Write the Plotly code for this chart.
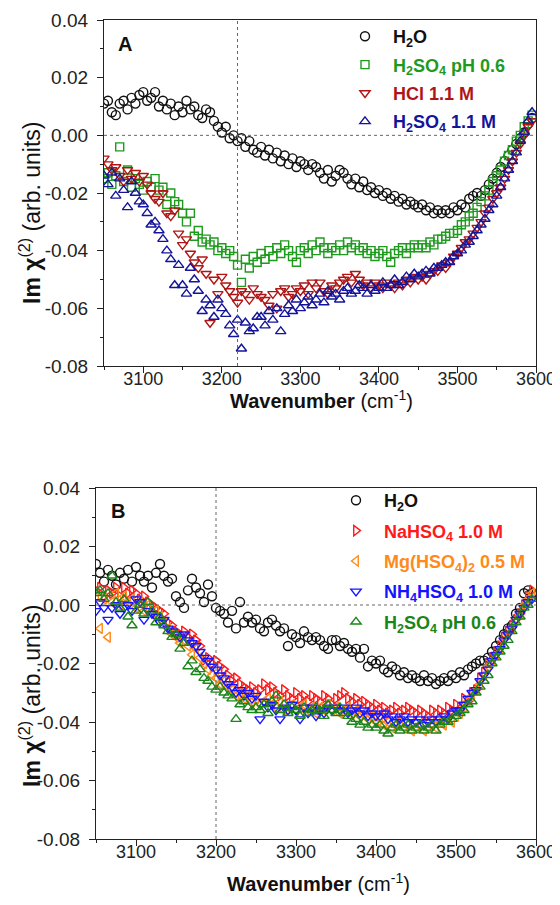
import plotly.graph_objects as go

WAVENUMBER = list(range(3050, 3600, 5))

# ---- Panel A ----
A_H2O = [0.011, 0.012, 0.008, 0.007, 0.011, 0.012, 0.009, 0.013, 0.011, 0.014,
         0.015, 0.012, 0.013, 0.015, 0.010, 0.012, 0.009, 0.011, 0.007, 0.010,
         0.008, 0.012, 0.009, 0.010, 0.007, 0.006, 0.009, 0.008, 0.005, 0.003,
         0.001, 0.003, -0.001, 0.000, -0.002, -0.001, -0.004, -0.002, -0.005, -0.006,
         -0.004, -0.007, -0.005, -0.008, -0.006, -0.009, -0.007, -0.010, -0.008, -0.011,
         -0.009, -0.010, -0.012, -0.010, -0.011, -0.013, -0.015, -0.012, -0.016, -0.014,
         -0.012, -0.013, -0.015, -0.017, -0.015, -0.018, -0.016, -0.019, -0.018, -0.020,
         -0.019, -0.021, -0.020, -0.022, -0.021, -0.023, -0.022, -0.024, -0.023, -0.024,
         -0.025, -0.024, -0.026, -0.025, -0.027, -0.026, -0.027, -0.026, -0.027, -0.025,
         -0.026, -0.024, -0.025, -0.022, -0.021, -0.020, -0.021, -0.019, -0.017, -0.015,
         -0.013, -0.011, -0.009, -0.007, -0.005, -0.003, -0.001, 0.001, 0.004, 0.006]

A_H2SO4_PH06 = [-0.015, -0.013, -0.017, -0.014, -0.004, -0.016, -0.012, -0.018, -0.015, -0.017,
                -0.019, -0.016, -0.018, -0.015, -0.019, -0.018, -0.024, -0.020, -0.023, -0.024,
                -0.027, -0.030, -0.027, -0.035, -0.033, -0.037, -0.036, -0.038, -0.037, -0.040,
                -0.039, -0.041, -0.040, -0.042, -0.045, -0.051, -0.043, -0.046, -0.042, -0.044,
                -0.041, -0.043, -0.040, -0.042, -0.039, -0.041, -0.038, -0.040, -0.042, -0.044,
                -0.040, -0.039, -0.041, -0.038, -0.040, -0.037, -0.039, -0.041, -0.039, -0.040,
                -0.038, -0.040, -0.037, -0.039, -0.038, -0.040, -0.039, -0.041, -0.040, -0.042,
                -0.041, -0.040, -0.042, -0.044, -0.041, -0.040, -0.039, -0.041, -0.039, -0.038,
                -0.039, -0.038, -0.039, -0.037, -0.038, -0.036, -0.036, -0.035, -0.034, -0.034,
                -0.033, -0.031, -0.030, -0.028, -0.027, -0.025, -0.023, -0.021, -0.019, -0.016,
                -0.014, -0.012, -0.009, -0.007, -0.005, -0.002, 0.000, 0.003, 0.005, 0.007]

A_HCL = [-0.008, -0.010, -0.012, -0.011, -0.014, -0.016, -0.012, -0.015, -0.013, -0.016,
         -0.014, -0.017, -0.020, -0.022, -0.023, -0.020, -0.027, -0.028, -0.026, -0.034,
         -0.038, -0.036, -0.041, -0.044, -0.046, -0.043, -0.048, -0.065, -0.050, -0.055,
         -0.049, -0.052, -0.054, -0.056, -0.058, -0.054, -0.055, -0.057, -0.053, -0.055,
         -0.056, -0.057, -0.059, -0.055, -0.060, -0.054, -0.053, -0.056, -0.055, -0.053,
         -0.054, -0.052, -0.055, -0.051, -0.053, -0.051, -0.054, -0.055, -0.052, -0.053,
         -0.051, -0.050, -0.049, -0.051, -0.048, -0.050, -0.052, -0.051, -0.053, -0.051,
         -0.052, -0.053, -0.051, -0.052, -0.053, -0.051, -0.052, -0.050, -0.051, -0.049,
         -0.050, -0.049, -0.050, -0.048, -0.047, -0.047, -0.045, -0.046, -0.044, -0.042,
         -0.041, -0.039, -0.037, -0.036, -0.034, -0.032, -0.030, -0.027, -0.025, -0.022,
         -0.020, -0.018, -0.015, -0.012, -0.009, -0.006, -0.003, 0.000, 0.003, 0.005]

A_H2SO4_11M = [-0.014, -0.017, -0.013, -0.021, -0.015, -0.019, -0.025, -0.016, -0.020, -0.023,
               -0.024, -0.027, -0.031, -0.030, -0.033, -0.036, -0.040, -0.043, -0.052, -0.045,
               -0.052, -0.055, -0.046, -0.050, -0.054, -0.061, -0.057, -0.059, -0.063, -0.057,
               -0.060, -0.062, -0.066, -0.069, -0.064, -0.074, -0.065, -0.068, -0.067, -0.063,
               -0.063, -0.066, -0.061, -0.064, -0.060, -0.068, -0.062, -0.059, -0.061, -0.057,
               -0.060, -0.058, -0.056, -0.059, -0.057, -0.055, -0.058, -0.054, -0.056, -0.055,
               -0.057, -0.054, -0.053, -0.055, -0.054, -0.052, -0.053, -0.055, -0.052, -0.054,
               -0.053, -0.051, -0.053, -0.052, -0.050, -0.052, -0.051, -0.049, -0.050, -0.048,
               -0.049, -0.048, -0.047, -0.048, -0.046, -0.046, -0.045, -0.044, -0.044, -0.042,
               -0.041, -0.040, -0.038, -0.037, -0.035, -0.033, -0.031, -0.029, -0.026, -0.024,
               -0.021, -0.018, -0.015, -0.012, -0.009, -0.006, -0.002, 0.001, 0.005, 0.008]

# ---- Panel B ----
B_H2O = [0.014, 0.011, 0.008, 0.012, 0.010, 0.007, 0.011, 0.009, 0.012, 0.008,
         0.013, 0.010, 0.008, 0.010, 0.006, 0.011, 0.014, 0.010, 0.008, 0.009,
         0.003, 0.001, -0.001, 0.005, 0.009, 0.006, 0.004, 0.001, 0.007, 0.003,
         -0.001, -0.002, -0.003, -0.006, -0.002, -0.008, 0.001, -0.006, -0.004, -0.006,
         -0.005, -0.008, -0.009, -0.006, -0.005, -0.007, -0.009, -0.008, -0.014, -0.010,
         -0.011, -0.013, -0.009, -0.011, -0.012, -0.011, -0.012, -0.014, -0.015, -0.012,
         -0.012, -0.014, -0.013, -0.015, -0.016, -0.015, -0.018, -0.015, -0.021, -0.019,
         -0.020, -0.019, -0.022, -0.023, -0.021, -0.022, -0.024, -0.023, -0.025, -0.024,
         -0.025, -0.026, -0.024, -0.026, -0.025, -0.027, -0.026, -0.025, -0.026, -0.024,
         -0.025, -0.023, -0.024, -0.022, -0.021, -0.020, -0.019, -0.019, -0.018, -0.016,
         -0.014, -0.012, -0.010, -0.008, -0.007, -0.003, -0.001, 0.004, 0.005, 0.004]

B_NAHSO4 = [0.005, 0.006, 0.003, 0.005, 0.004, 0.006, 0.003, 0.006, 0.004, 0.005,
            0.004, 0.002, 0.003, 0.001, 0.000, -0.001, -0.002, -0.003, -0.006, -0.007,
            -0.009, -0.010, -0.009, -0.011, -0.010, -0.012, -0.014, -0.019, -0.018, -0.020,
            -0.019, -0.021, -0.022, -0.024, -0.026, -0.025, -0.027, -0.028, -0.029, -0.028,
            -0.030, -0.029, -0.027, -0.029, -0.028, -0.030, -0.031, -0.029, -0.031, -0.032,
            -0.030, -0.032, -0.031, -0.033, -0.031, -0.032, -0.033, -0.031, -0.032, -0.034,
            -0.032, -0.031, -0.030, -0.032, -0.033, -0.032, -0.034, -0.033, -0.034, -0.035,
            -0.034, -0.036, -0.035, -0.037, -0.036, -0.035, -0.037, -0.036, -0.035, -0.036,
            -0.037, -0.036, -0.037, -0.038, -0.036, -0.037, -0.036, -0.037, -0.035, -0.036,
            -0.034, -0.035, -0.032, -0.033, -0.030, -0.029, -0.025, -0.023, -0.020, -0.018,
            -0.016, -0.014, -0.011, -0.009, -0.007, -0.005, -0.003, 0.000, 0.003, 0.005]

B_MGHSO4 = [0.003, -0.008, 0.002, -0.011, 0.001, 0.004, 0.000, 0.003, 0.001, 0.002,
            -0.001, 0.001, -0.002, 0.000, -0.003, -0.002, -0.004, -0.006, -0.008, -0.010,
            -0.011, -0.013, -0.012, -0.014, -0.017, -0.015, -0.018, -0.020, -0.022, -0.024,
            -0.025, -0.027, -0.026, -0.028, -0.029, -0.031, -0.030, -0.032, -0.031, -0.033,
            -0.032, -0.034, -0.033, -0.032, -0.034, -0.035, -0.033, -0.036, -0.035, -0.034,
            -0.036, -0.035, -0.034, -0.036, -0.035, -0.037, -0.035, -0.036, -0.034, -0.036,
            -0.035, -0.037, -0.036, -0.035, -0.037, -0.036, -0.038, -0.037, -0.039, -0.038,
            -0.040, -0.039, -0.041, -0.040, -0.042, -0.041, -0.040, -0.042, -0.041, -0.043,
            -0.042, -0.041, -0.043, -0.042, -0.041, -0.042, -0.040, -0.041, -0.039, -0.040,
            -0.038, -0.037, -0.035, -0.033, -0.031, -0.029, -0.027, -0.024, -0.021, -0.019,
            -0.017, -0.015, -0.012, -0.010, -0.008, -0.005, -0.003, 0.000, 0.002, 0.004]

B_NH4HSO4 = [-0.002, 0.001, -0.001, -0.005, -0.001, 0.000, -0.003, -0.001, 0.000, -0.002,
             0.002, 0.001, -0.005, -0.002, -0.003, -0.004, -0.006, -0.005, -0.008, -0.009,
             -0.010, -0.011, -0.010, -0.012, -0.013, -0.014, -0.016, -0.018, -0.019, -0.021,
             -0.022, -0.024, -0.025, -0.027, -0.028, -0.030, -0.029, -0.031, -0.030, -0.032,
             -0.031, -0.039, -0.033, -0.035, -0.034, -0.036, -0.039, -0.035, -0.036, -0.034,
             -0.036, -0.039, -0.035, -0.037, -0.035, -0.038, -0.036, -0.037, -0.035, -0.036,
             -0.035, -0.036, -0.035, -0.037, -0.036, -0.035, -0.037, -0.036, -0.038, -0.037,
             -0.038, -0.038, -0.037, -0.039, -0.038, -0.040, -0.039, -0.038, -0.040, -0.039,
             -0.040, -0.039, -0.041, -0.040, -0.039, -0.040, -0.039, -0.038, -0.039, -0.037,
             -0.036, -0.036, -0.034, -0.032, -0.030, -0.029, -0.026, -0.024, -0.022, -0.019,
             -0.017, -0.015, -0.012, -0.010, -0.008, -0.005, -0.003, -0.001, 0.001, 0.002]

B_H2SO4_PH06 = [0.004, 0.005, 0.002, 0.004, 0.010, 0.001, -0.001, 0.002, -0.004, -0.007,
                -0.002, 0.000, -0.003, 0.001, -0.002, -0.006, -0.004, -0.007, -0.009, -0.011,
                -0.010, -0.015, -0.013, -0.021, -0.019, -0.023, -0.022, -0.025, -0.026, -0.028,
                -0.029, -0.028, -0.030, -0.031, -0.032, -0.039, -0.034, -0.033, -0.035, -0.036,
                -0.035, -0.036, -0.034, -0.037, -0.033, -0.031, -0.036, -0.034, -0.037, -0.035,
                -0.036, -0.038, -0.035, -0.037, -0.036, -0.035, -0.036, -0.038, -0.034, -0.036,
                -0.037, -0.035, -0.037, -0.038, -0.040, -0.039, -0.041, -0.040, -0.042, -0.041,
                -0.042, -0.041, -0.043, -0.044, -0.042, -0.041, -0.043, -0.042, -0.041, -0.043,
                -0.042, -0.041, -0.043, -0.042, -0.041, -0.043, -0.041, -0.040, -0.040, -0.039,
                -0.038, -0.037, -0.036, -0.034, -0.033, -0.030, -0.028, -0.026, -0.024, -0.020,
                -0.018, -0.016, -0.014, -0.012, -0.009, -0.006, -0.004, -0.001, 0.000, 0.002]

for _arr in (A_H2O, A_H2SO4_PH06, A_HCL, A_H2SO4_11M, B_H2O, B_NAHSO4, B_MGHSO4, B_NH4HSO4, B_H2SO4_PH06):
    assert len(_arr) == len(WAVENUMBER), len(_arr)

X_TICKS = [3100, 3200, 3300, 3400, 3500, 3600]
X_MINOR = [3050, 3150, 3250, 3350, 3450, 3550]
Y_TICKS = [0.04, 0.02, 0.00, -0.02, -0.04, -0.06, -0.08]
Y_TICK_TEXT = ["0.04", "0.02", "0.00", "-0.02", "-0.04", "-0.06", "-0.08"]
Y_MINOR = [0.03, 0.01, -0.01, -0.03, -0.05, -0.07]

FONT = "Arial, 'Liberation Sans', sans-serif"

C_BLACK = "#111111"
C_GREEN_A = "#1f9a1f"
C_DRED = "#b01515"
C_NAVY = "#14149a"
C_RED = "#ff1a1a"
C_ORANGE = "#ff8a1a"
C_BLUE = "#1414ff"
C_GREEN_B = "#1a861a"

fig = go.Figure()

def add(y, name, color, symbol, xa, ya, leg, size=9):
    fig.add_trace(go.Scatter(
        x=WAVENUMBER, y=y, mode="markers", name=name,
        xaxis=xa, yaxis=ya, legend=leg, legendgroup=name,
        marker=dict(symbol=symbol, size=size, color=color, line=dict(width=1.4, color=color)),
    ))

add(A_H2O, "<b>H<sub>2</sub>O</b>", C_BLACK, "circle-open", "x", "y", "legend")
add(A_H2SO4_PH06, "<b>H<sub>2</sub>SO<sub>4</sub> pH 0.6</b>", C_GREEN_A, "square-open", "x", "y", "legend", 8)
add(A_HCL, "<b>HCl 1.1 M</b>", C_DRED, "triangle-down-open", "x", "y", "legend")
add(A_H2SO4_11M, "<b>H<sub>2</sub>SO<sub>4</sub> 1.1 M</b>", C_NAVY, "triangle-up-open", "x", "y", "legend")

add(B_H2O, "<b>H<sub>2</sub>O</b>", C_BLACK, "circle-open", "x2", "y2", "legend2")
add(B_NAHSO4, "<b>NaHSO<sub>4</sub> 1.0 M</b>", C_RED, "triangle-right-open", "x2", "y2", "legend2")
add(B_MGHSO4, "<b>Mg(HSO<sub>4</sub>)<sub>2</sub> 0.5 M</b>", C_ORANGE, "triangle-left-open", "x2", "y2", "legend2")
add(B_NH4HSO4, "<b>NH<sub>4</sub>HSO<sub>4</sub> 1.0 M</b>", C_BLUE, "triangle-down-open", "x2", "y2", "legend2")
add(B_H2SO4_PH06, "<b>H<sub>2</sub>SO<sub>4</sub> pH 0.6</b>", C_GREEN_B, "triangle-up-open", "x2", "y2", "legend2")

# colour legend text per trace
for tr in fig.data:
    tr.name = f"<span style='color:{tr.marker.color}'>{tr.name}</span>"

# The page body has an 8px margin; lay out in window pixels minus that offset.
OFF = 8
W, H = 560 - OFF, 905 - 2 * OFF

def px(x):
    return (x - OFF) / W

def py(y):
    return 1 - (y - OFF) / H

def xdom(l, r):
    return [px(l), px(r)]

def ydom(t, b):
    return [py(b), py(t)]

xax = dict(range=[3050, 3600], tickvals=X_TICKS, showline=True, mirror=True, linecolor="#222",
           linewidth=1.2, ticks="outside", ticklen=6, tickwidth=1.2, tickcolor="#222",
           minor=dict(tickvals=X_MINOR, ticks="outside", ticklen=3, tickwidth=1.2, tickcolor="#222"),
           showgrid=False, zeroline=False, automargin=False, ticklabelstandoff=-10,
           ticklabeloverflow="allow",
           tickfont=dict(family=FONT, size=18, color="#222"))
yax = dict(range=[-0.08, 0.04], tickvals=Y_TICKS, ticktext=Y_TICK_TEXT, showline=True, mirror=True,
           linecolor="#222", linewidth=1.2, ticks="outside", ticklen=6, tickwidth=1.2, tickcolor="#222",
           minor=dict(tickvals=Y_MINOR, ticks="outside", ticklen=3, tickwidth=1.2, tickcolor="#222"),
           showgrid=False, zeroline=False, automargin=False, ticklabelstandoff=5,
           tickfont=dict(family=FONT, size=19, color="#222"))

leg = dict(bgcolor="rgba(0,0,0,0)", borderwidth=0, font=dict(family=FONT, size=18),
           xanchor="left", yanchor="top", tracegroupgap=2, itemwidth=46)

fig.update_layout(
    width=W, height=H, margin=dict(l=0, r=0, t=0, b=0, autoexpand=False),
    paper_bgcolor="white", plot_bgcolor="white",
    font=dict(family=FONT, color="#111"),
    xaxis=dict(xax, domain=xdom(104, 536), anchor="y"),
    yaxis=dict(yax, domain=ydom(20, 366), anchor="x"),
    xaxis2=dict(xax, domain=xdom(96, 536), anchor="y2"),
    yaxis2=dict(yax, domain=ydom(488, 839), anchor="x2"),
    legend=dict(leg, x=px(337), y=py(18)),
    legend2=dict(leg, x=px(328), y=py(482), tracegroupgap=4),
    showlegend=True,
)

# dashed reference lines
for xa, ya, xv in (("x", "y", 3220), ("x2", "y2", 3200)):
    fig.add_shape(type="line", xref=xa, yref=f"{ya} domain", x0=xv, x1=xv, y0=0, y1=1,
                  line=dict(color="#666", width=1, dash="dot"))
    fig.add_shape(type="line", xref=f"{xa} domain", yref=ya, x0=0, x1=1, y0=0, y1=0,
                  line=dict(color="#666", width=1, dash="dot"))

# panel letters
for letter, cx, cy in (("A", 125, 44), ("B", 118, 511)):
    fig.add_annotation(text=f"<b>{letter}</b>", xref="paper", yref="paper", x=px(cx), y=py(cy),
                       xanchor="center", yanchor="middle",
                       showarrow=False, font=dict(family=FONT, size=20, color="#111"))

# axis titles
XTITLE = "<b>Wavenumber</b> (cm<sup>-1</sup>)"
YTITLE = "<b>Im χ</b><sup>(2)</sup> (arb. units)"
for cx, cy in ((321, 399), (318, 882)):
    fig.add_annotation(text=XTITLE, xref="paper", yref="paper", x=px(cx), y=py(cy),
                       showarrow=False, xanchor="center", yanchor="middle",
                       font=dict(family=FONT, size=20, color="#111"))
for cy in (213, 696):
    fig.add_annotation(text=YTITLE, xref="paper", yref="paper", x=px(30), y=py(cy),
                       showarrow=False, xanchor="center", yanchor="middle", textangle=-90,
                       font=dict(family=FONT, size=23, color="#111"))

fig.write_html("out.html")
